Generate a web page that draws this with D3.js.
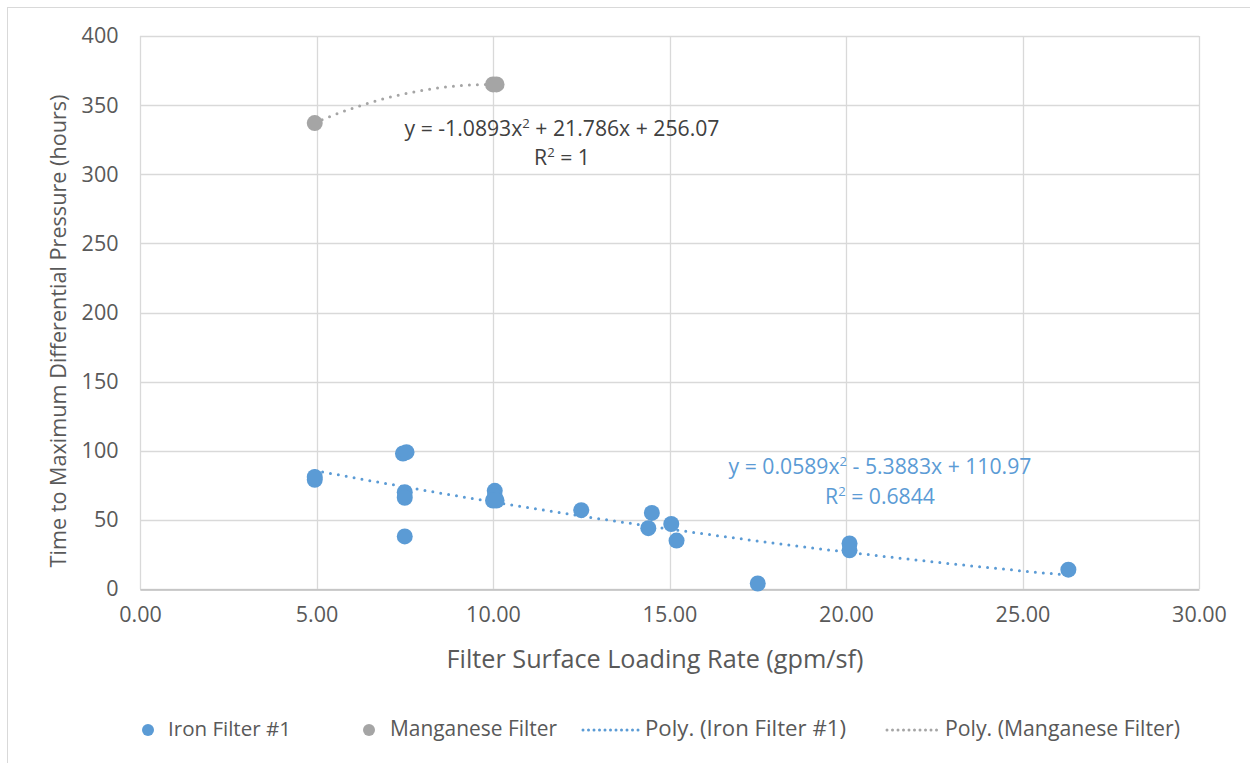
<!DOCTYPE html>
<html><head><meta charset="utf-8">
<script src="https://cdn.jsdelivr.net/npm/d3@7"></script>
<style>body{margin:0;background:#fff}svg{display:block}text{font-family:"Open Sans","Noto Sans",sans-serif}</style>
</head><body>
<svg id="c" width="1250" height="763"></svg>
<script>
const xTicks = [0, 5, 10, 15, 20, 25, 30];
const yTicks = [0, 50, 100, 150, 200, 250, 300, 350, 400];
const ironX = [4.95, 4.95, 7.45, 7.55, 7.5, 7.5, 7.5, 10.05, 10.05, 10.0, 10.1, 12.5, 14.4, 14.5, 15.05, 15.2, 17.5, 20.1, 20.1, 26.3];
const ironY = [79, 81, 98, 99, 70, 66, 38, 71, 67, 64, 64, 57, 44, 55, 47, 35, 4, 33, 28, 14];
const mnX = [4.95, 10.0, 10.1];
const mnY = [337, 365, 365];
const ironFit = [0.0589, -5.3883, 110.97];
const mnFit = [-1.0893, 21.786, 256.07];
const ironFitRange = [4.95, 26.3];
const mnFitRange = [4.95, 10.1];
const legendLabels = ["Iron Filter #1", "Manganese Filter", "Poly. (Iron Filter #1)", "Poly. (Manganese Filter)"];
const colors = {iron: "#5b9bd5", mn: "#a5a5a5"};

const svg = d3.select("#c");
const x = d3.scaleLinear().domain([0, 30]).range([140, 1199]);
const y = d3.scaleLinear().domain([0, 400]).range([589, 36]);

function fit(sel, w) {
  const n = sel.node();
  const fs = parseFloat(sel.attr("font-size"));
  const len = n.getComputedTextLength();
  if (len > 0) sel.attr("font-size", (fs * w / len).toFixed(2));
  return sel;
}

svg.append("rect").attr("x", 7.5).attr("y", 7.5).attr("width", 1260).attr("height", 780)
  .attr("fill", "none").attr("stroke", "#d9d9d9");

// gridlines
svg.append("g").selectAll("line").data(yTicks).join("line")
  .attr("x1", x(0)).attr("x2", x(30)).attr("y1", d => Math.round(y(d)) + 0.5).attr("y2", d => Math.round(y(d)) + 0.5)
  .attr("stroke", "#d9d9d9").attr("stroke-width", 1.3);
svg.append("g").selectAll("line").data(xTicks).join("line")
  .attr("y1", y(0)).attr("y2", y(400)).attr("x1", d => Math.round(x(d)) + 0.5).attr("x2", d => Math.round(x(d)) + 0.5)
  .attr("stroke", "#d9d9d9").attr("stroke-width", 1.3);

// axes
const xAxis = svg.append("g").attr("transform", `translate(0,${Math.round(y(0)) + 0.5})`)
  .call(d3.axisBottom(x).tickValues(xTicks).tickFormat(d3.format(".2f")).tickSize(0).tickPadding(17));
xAxis.select(".domain").attr("stroke", "#bfbfbf").attr("stroke-width", 1.3);
xAxis.selectAll("text").attr("font-size", 21.5).attr("fill", "#595959").attr("font-family", "Open Sans");
const yAxis = svg.append("g").attr("transform", `translate(${Math.round(x(0)) + 0.5},0)`)
  .call(d3.axisLeft(y).tickValues(yTicks).tickSize(0).tickPadding(22));
yAxis.select(".domain").remove();
yAxis.selectAll("text").attr("font-size", 21.5).attr("fill", "#595959").attr("font-family", "Open Sans");

fit(svg.append("text").attr("x", 655).attr("y", 668).attr("text-anchor", "middle")
  .attr("font-size", 19).attr("fill", "#595959").text("Filter Surface Loading Rate (gpm/sf)"), 417);
fit(svg.append("text").attr("transform", "translate(66,331) rotate(-90)").attr("text-anchor", "middle")
  .attr("font-size", 19).attr("fill", "#595959").text("Time to Maximum Differential Pressure (hours)"), 473);

// trend lines
function fitPts(c, r) {
  const n = 60, out = [];
  for (let i = 0; i <= n; i++) { const xv = r[0] + (r[1] - r[0]) * i / n; out.push([xv, c[0] * xv * xv + c[1] * xv + c[2]]); }
  return out;
}
const line = d3.line().x(d => x(d[0])).y(d => y(d[1]));
svg.append("path").attr("d", line(fitPts(mnFit, mnFitRange))).attr("fill", "none")
  .attr("stroke", colors.mn).attr("stroke-width", 3).attr("stroke-dasharray", "0,8").attr("stroke-linecap", "round");
svg.append("path").attr("d", line(fitPts(ironFit, ironFitRange))).attr("fill", "none")
  .attr("stroke", colors.iron).attr("stroke-width", 3).attr("stroke-dasharray", "0,8").attr("stroke-linecap", "round");

// points
svg.append("g").selectAll("circle").data(mnX.map((d, i) => [d, mnY[i]])).join("circle")
  .attr("cx", d => x(d[0])).attr("cy", d => y(d[1])).attr("r", 8).attr("fill", colors.mn);
svg.append("g").selectAll("circle").data(ironX.map((d, i) => [d, ironY[i]])).join("circle")
  .attr("cx", d => x(d[0])).attr("cy", d => y(d[1])).attr("r", 8).attr("fill", colors.iron);

// equations
function eq(xc, yc, pre, sup, post, color, fs) {
  const t = svg.append("text").attr("x", xc).attr("y", yc).attr("text-anchor", "middle").attr("font-size", fs).attr("fill", color);
  t.append("tspan").text(pre);
  t.append("tspan").attr("font-size", fs * 0.62).attr("dy", -fs * 0.38).text(sup);
  t.append("tspan").attr("dy", fs * 0.38).text(post);
  return t;
}
const e1 = eq(562, 136, "y = -1.0893x", "2", " + 21.786x + 256.07", "#404040", 18);
const k = 315 / e1.node().getComputedTextLength();
const efs = 18 * k;
e1.remove();
eq(562, 136, "y = -1.0893x", "2", " + 21.786x + 256.07", "#404040", efs);
eq(562, 165, "R", "2", " = 1", "#404040", efs);
eq(880, 474, "y = 0.0589x", "2", " - 5.3883x + 110.97", colors.iron, efs);
eq(880, 504, "R", "2", " = 0.6844", colors.iron, efs);

// legend
const ly = 730;
const lg = svg.append("g").attr("fill", "#595959");
lg.append("circle").attr("cx", 148).attr("cy", ly).attr("r", 6).attr("fill", colors.iron);
fit(lg.append("text").attr("x", 168).attr("y", ly + 6).attr("font-size", 18).text(legendLabels[0]), 123);
lg.append("circle").attr("cx", 369).attr("cy", ly).attr("r", 6).attr("fill", colors.mn);
fit(lg.append("text").attr("x", 390).attr("y", ly + 6).attr("font-size", 18).text(legendLabels[1]), 167);
lg.append("line").attr("x1", 583).attr("x2", 639).attr("y1", ly).attr("y2", ly)
  .attr("stroke", colors.iron).attr("stroke-width", 3).attr("stroke-dasharray", "0,5.5").attr("stroke-linecap", "round");
fit(lg.append("text").attr("x", 645).attr("y", ly + 6).attr("font-size", 18).text(legendLabels[2]), 201);
lg.append("line").attr("x1", 887).attr("x2", 940).attr("y1", ly).attr("y2", ly)
  .attr("stroke", colors.mn).attr("stroke-width", 3).attr("stroke-dasharray", "0,5.5").attr("stroke-linecap", "round");
fit(lg.append("text").attr("x", 945).attr("y", ly + 6).attr("font-size", 18).text(legendLabels[3]), 235);
</script>
</body></html>
